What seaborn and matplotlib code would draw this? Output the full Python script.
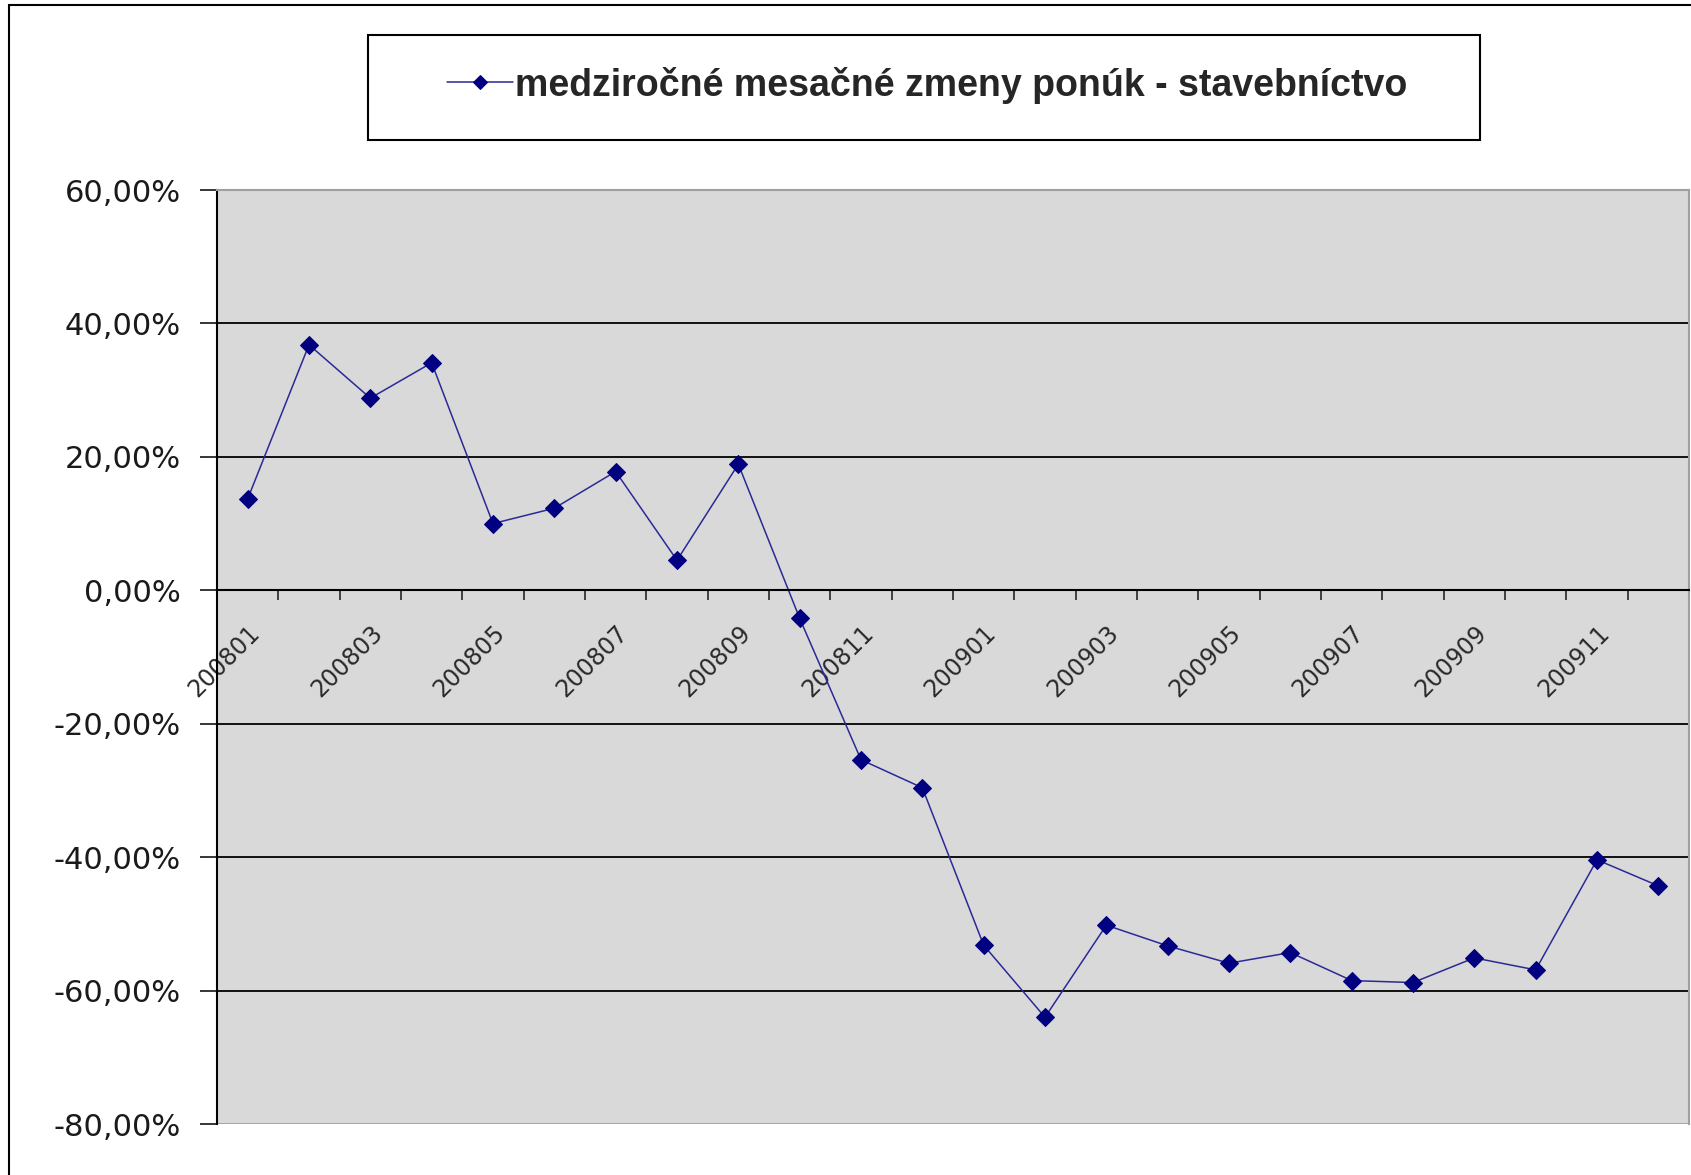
import matplotlib
matplotlib.use("Agg")
import matplotlib.pyplot as plt
import matplotlib.patches as mpatches
import seaborn as sns
import pandas as pd

# monthly data, 2008-01 .. 2009-12
months = ["200801", "200802", "200803", "200804", "200805", "200806",
          "200807", "200808", "200809", "200810", "200811", "200812",
          "200901", "200902", "200903", "200904", "200905", "200906",
          "200907", "200908", "200909", "200910", "200911", "200912"]
changes = [13.7, 36.8, 28.8, 34.1, 10.0, 12.3, 17.8, 4.5, 18.9, -4.2,
           -25.4, -29.6, -53.2, -64.0, -50.2, -53.3, -55.9, -54.3,
           -58.5, -58.8, -55.1, -56.9, -40.4, -44.3]
series_name = "medziročné mesačné zmeny ponúk - stavebníctvo"
yticks = [-80, -60, -40, -20, 0, 20, 40, 60]

df = pd.DataFrame({"pos": range(len(months)), "value": changes})

sns.set_style("white")
plt.rcParams["font.family"] = ["DejaVu Sans"]

fig = plt.figure(figsize=(16.91, 11.75), dpi=100)
W, H = 1691, 1175
ax = fig.add_axes([217 / W, 1 - 1124 / H, (1689 - 217) / W, (1124 - 190) / H])

# outer chart border
fig.patches.append(mpatches.Rectangle((9 / W, -0.01), 1.0, 1 - 5 / H + 0.01,
                                      transform=fig.transFigure, fill=False,
                                      edgecolor="black", linewidth=1.5))
# legend box
fig.patches.append(mpatches.Rectangle((368 / W, 1 - 140 / H), (1480 - 368) / W,
                                      (140 - 35) / H, transform=fig.transFigure,
                                      fill=False, edgecolor="black", linewidth=1.5))

ax.set_facecolor("#d9d9d9")
sns.lineplot(data=df, x="pos", y="value", ax=ax, color="#2a2a96", linewidth=1.1,
             marker="D", markersize=9, markerfacecolor="#000080",
             markeredgecolor="#000080", label=series_name)

ax.set_xlim(-0.5, len(months) - 0.5)
ax.set_ylim(-80, 60)
ax.set_xlabel("")
ax.set_ylabel("")

# horizontal gridlines (black, Excel style)
for v in yticks:
    if v in (-80, 60):
        continue
    ax.axhline(v, color="black", linewidth=1.3, zorder=1)

for s in ["top", "right"]:
    ax.spines[s].set_color("#a0a0a0")
    ax.spines[s].set_linewidth(1.5)
ax.spines["left"].set_color("black")
ax.spines["left"].set_linewidth(1.5)
ax.spines["bottom"].set_position(("data", 0))
ax.spines["bottom"].set_color("black")
ax.spines["bottom"].set_linewidth(1.5)
ax.axhline(-80, color="#a0a0a0", linewidth=2, zorder=1)

ax.set_yticks(yticks)
ax.set_yticklabels([f"{v:.2f}%".replace(".", ",") for v in yticks], fontsize=22,
                   color="#1a1a1a")
ax.tick_params(axis="y", direction="out", length=12, width=1.3, pad=14, left=True)

ax.set_xticks(list(range(0, len(months), 2)))
ax.set_xticklabels(months[::2], fontsize=17, rotation=45, ha="right",
                   rotation_mode="anchor", color="#2a2a2a")
ax.set_xticks([k - 0.5 for k in range(len(months) + 1)], minor=True)
ax.tick_params(axis="x", which="major", length=0, pad=22, bottom=True)
ax.tick_params(axis="x", which="minor", direction="out", length=7, width=1.2,
               bottom=True)

leg = ax.legend(loc="center", bbox_to_anchor=((368 + 1480) / 2 / W + 0.002, 1 - 85 / H),
                bbox_transform=fig.transFigure, frameon=False,
                prop={"family": "Liberation Sans", "weight": "bold", "size": 27},
                handlelength=1.75, handletextpad=0.05, markerscale=0.8)

fig.savefig("out.png", dpi=100, facecolor="white")
